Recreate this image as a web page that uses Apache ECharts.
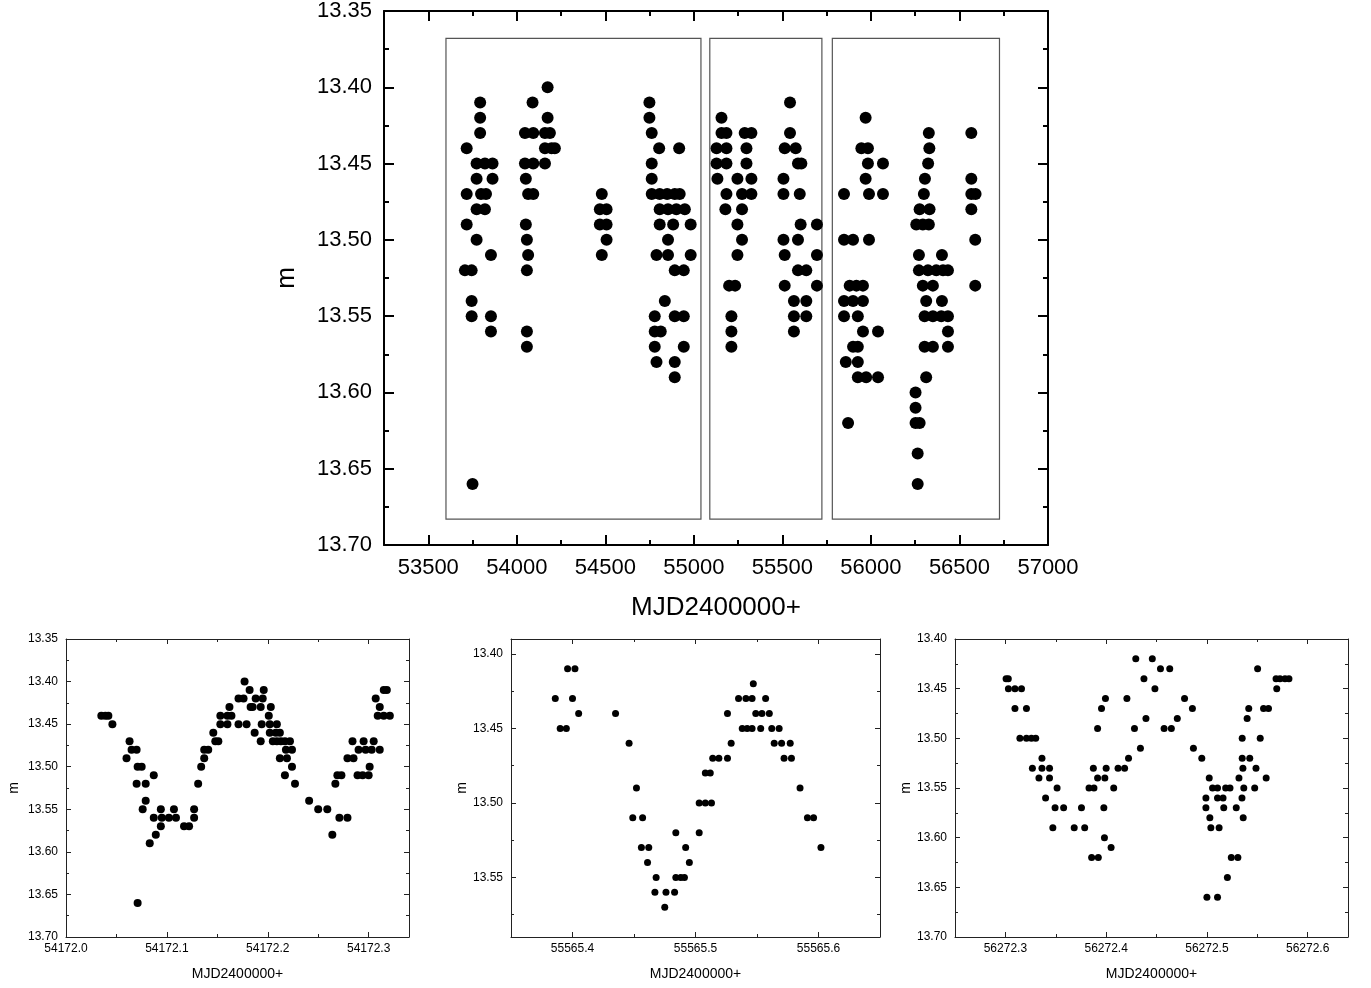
<!DOCTYPE html>
<html>
<head>
<meta charset="utf-8">
<script src="https://cdn.jsdelivr.net/npm/echarts@6/dist/echarts.min.js"></script>
<style>
  html, body { margin: 0; padding: 0; background: #fff; }
  #main { width: 1371px; height: 988px; }
</style>
</head>
<body>
<div id="main"></div>
<script>
// long-term light curve, [MJD, m]
const longTerm = [
  [53793,13.41],[53793,13.42],[53793,13.43],[53717,13.44],[53773,13.45],[53820,13.45],[53863,13.45],
  [53773,13.46],[53863,13.46],[53717,13.47],[53798,13.47],[53826,13.47],[53773,13.48],[53820,13.48],
  [53717,13.49],[53773,13.50],[53854,13.51],[53707,13.52],[53745,13.52],[53745,13.54],[53745,13.55],
  [53854,13.55],[53854,13.56],[53750,13.66],
  [54174,13.40],[54089,13.41],[54174,13.42],[54046,13.43],[54093,13.43],[54159,13.43],[54187,13.43],
  [54159,13.44],[54196,13.44],[54215,13.44],[54046,13.45],[54093,13.45],[54159,13.45],[54051,13.46],
  [54064,13.47],[54093,13.47],[54051,13.49],[54057,13.50],[54064,13.51],[54057,13.52],[54057,13.56],[54057,13.57],
  [54480,13.47],[54469,13.48],[54507,13.48],[54469,13.49],[54507,13.49],[54507,13.50],[54480,13.51],
  [54749,13.41],[54749,13.42],[54762,13.43],[54804,13.44],[54917,13.44],[54762,13.45],[54762,13.46],
  [54762,13.47],[54807,13.47],[54849,13.47],[54892,13.47],[54920,13.47],[54807,13.48],[54854,13.48],
  [54901,13.48],[54949,13.48],[54807,13.49],[54883,13.49],[54982,13.49],[54854,13.50],[54789,13.51],
  [54854,13.51],[54982,13.51],[54892,13.52],[54943,13.52],[54836,13.54],[54779,13.55],[54892,13.55],
  [54943,13.55],[54779,13.56],[54813,13.56],[54779,13.57],[54943,13.57],[54789,13.58],[54892,13.58],[54892,13.59],
  [55156,13.42],[55156,13.43],[55184,13.43],[55287,13.43],[55325,13.43],[55128,13.44],[55184,13.44],
  [55297,13.44],[55128,13.45],[55184,13.45],[55297,13.45],[55133,13.46],[55246,13.46],[55325,13.46],
  [55184,13.47],[55272,13.47],[55325,13.47],[55178,13.48],[55272,13.48],[55246,13.49],[55272,13.50],
  [55246,13.51],[55199,13.53],[55233,13.53],[55212,13.55],[55212,13.56],[55212,13.57],
  [55543,13.41],[55543,13.43],[55513,13.44],[55575,13.44],[55588,13.45],[55607,13.45],[55506,13.46],
  [55506,13.47],[55598,13.47],[55603,13.49],[55695,13.49],[55506,13.50],[55588,13.50],[55513,13.51],
  [55695,13.51],[55588,13.52],[55635,13.52],[55513,13.53],[55695,13.53],[55565,13.54],[55635,13.54],
  [55565,13.55],[55635,13.55],[55565,13.56],
  [55970,13.42],[55946,13.44],[55983,13.44],[55983,13.45],[56068,13.45],[55970,13.46],[55848,13.47],
  [55989,13.47],[56068,13.47],[55848,13.50],[55899,13.50],[55989,13.50],[55880,13.53],[55918,13.53],
  [55955,13.53],[55848,13.54],[55899,13.54],[55955,13.54],[55848,13.55],[55926,13.55],[55955,13.56],
  [56040,13.56],[55899,13.57],[55926,13.57],[55858,13.58],[55926,13.58],[55926,13.59],[55973,13.59],
  [56040,13.59],[55871,13.62],
  [56327,13.43],[56330,13.44],[56323,13.45],[56305,13.46],[56299,13.47],[56275,13.48],[56331,13.48],
  [56256,13.49],[56293,13.49],[56327,13.49],[56271,13.51],[56401,13.51],[56271,13.52],[56322,13.52],
  [56369,13.52],[56407,13.52],[56435,13.52],[56293,13.53],[56350,13.53],[56312,13.54],[56401,13.54],
  [56303,13.55],[56350,13.55],[56397,13.55],[56435,13.55],[56435,13.56],[56303,13.57],[56350,13.57],
  [56435,13.57],[56312,13.59],[56252,13.60],[56252,13.61],[56252,13.62],[56275,13.62],[56264,13.64],[56264,13.66],
  [56567,13.43],[56567,13.46],[56567,13.47],[56591,13.47],[56567,13.48],[56589,13.50],[56589,13.53]
];
// the three observing-season boxes: [x0, x1], y from/to
const boxX = [[53600, 55040], [55090, 55723], [55782, 56726]];
const boxY = [13.368, 13.683];

// night of 54172
const night1 = [
  [54172.035,13.44],[54172.039,13.44],[54172.042,13.44],[54172.046,13.45],[54172.063,13.47],[54172.065,13.48],
  [54172.070,13.48],[54172.060,13.49],[54172.071,13.50],[54172.075,13.50],[54172.087,13.51],[54172.070,13.52],
  [54172.079,13.52],[54172.079,13.54],[54172.076,13.55],[54172.094,13.55],[54172.107,13.55],[54172.127,13.55],
  [54172.087,13.56],[54172.095,13.56],[54172.102,13.56],[54172.109,13.56],[54172.127,13.56],[54172.117,13.57],
  [54172.122,13.57],[54172.094,13.57],[54172.089,13.58],[54172.083,13.59],[54172.071,13.66],[54172.131,13.52],
  [54172.134,13.50],[54172.137,13.49],[54172.137,13.48],[54172.141,13.48],[54172.146,13.46],[54172.148,13.47],
  [54172.151,13.47],[54172.153,13.44],[54172.160,13.44],[54172.164,13.44],[54172.153,13.45],[54172.160,13.45],
  [54172.162,13.43],[54172.171,13.42],[54172.176,13.42],[54172.171,13.45],[54172.179,13.45],[54172.177,13.40],
  [54172.182,13.41],[54172.183,13.43],[54172.185,13.43],[54172.188,13.42],[54172.195,13.42],[54172.196,13.41],
  [54172.193,13.43],[54172.203,13.43],[54172.187,13.46],[54172.194,13.45],[54172.202,13.45],[54172.209,13.45],
  [54172.201,13.44],[54172.193,13.47],[54172.202,13.46],[54172.208,13.46],[54172.212,13.46],[54172.205,13.47],
  [54172.209,13.47],[54172.213,13.47],[54172.217,13.47],[54172.222,13.47],[54172.212,13.49],[54172.219,13.49],
  [54172.218,13.48],[54172.224,13.48],[54172.224,13.50],[54172.217,13.51],[54172.227,13.52],[54172.241,13.54],
  [54172.250,13.55],[54172.259,13.55],[54172.271,13.56],[54172.279,13.56],[54172.264,13.58],[54172.267,13.52],
  [54172.269,13.51],[54172.273,13.51],[54172.279,13.49],[54172.285,13.49],[54172.284,13.47],[54172.295,13.47],
  [54172.305,13.47],[54172.290,13.48],[54172.297,13.48],[54172.303,13.48],[54172.311,13.48],[54172.289,13.51],
  [54172.294,13.51],[54172.300,13.51],[54172.301,13.50],[54172.307,13.42],[54172.311,13.43],[54172.315,13.41],
  [54172.318,13.41],[54172.309,13.44],[54172.315,13.44],[54172.321,13.44]
];

// night of 55565
const night2 = [
  [55565.396,13.41],[55565.402,13.41],[55565.386,13.43],[55565.400,13.43],[55565.405,13.44],[55565.390,13.45],
  [55565.395,13.45],[55565.435,13.44],[55565.446,13.46],[55565.452,13.49],[55565.449,13.51],[55565.457,13.51],
  [55565.456,13.53],[55565.462,13.53],[55565.461,13.54],[55565.468,13.55],[55565.467,13.56],[55565.476,13.56],
  [55565.483,13.56],[55565.475,13.57],[55565.484,13.55],[55565.488,13.55],[55565.491,13.55],[55565.484,13.52],
  [55565.492,13.53],[55565.495,13.54],[55565.503,13.52],[55565.503,13.50],[55565.508,13.50],[55565.513,13.50],
  [55565.508,13.48],[55565.512,13.48],[55565.514,13.47],[55565.519,13.47],[55565.526,13.47],[55565.529,13.46],
  [55565.526,13.44],[55565.538,13.45],[55565.542,13.45],[55565.546,13.45],[55565.535,13.43],[55565.541,13.43],
  [55565.546,13.43],[55565.547,13.42],[55565.557,13.43],[55565.549,13.44],[55565.554,13.44],[55565.560,13.44],
  [55565.553,13.45],[55565.562,13.45],[55565.568,13.45],[55565.564,13.46],[55565.570,13.46],[55565.577,13.46],
  [55565.572,13.47],[55565.578,13.47],[55565.585,13.49],[55565.591,13.51],[55565.596,13.51],[55565.602,13.53]
];

// night of 56272
const night3 = [
  [56272.3007,13.44],[56272.3029,13.44],[56272.303,13.45],[56272.3095,13.45],[56272.316,13.45],[56272.3095,13.47],
  [56272.3209,13.47],[56272.3144,13.50],[56272.3209,13.50],[56272.3258,13.50],[56272.3301,13.50],[56272.3363,13.52],
  [56272.3268,13.53],[56272.3363,13.53],[56272.3438,13.53],[56272.3333,13.54],[56272.3438,13.54],[56272.3513,13.55],
  [56272.3399,13.56],[56272.3493,13.57],[56272.3578,13.57],[56272.3471,13.59],[56272.3755,13.57],[56272.3683,13.59],
  [56272.3787,13.59],[56272.3856,13.62],[56272.3922,13.62],[56272.3983,13.60],[56272.4049,13.61],[56272.3977,13.57],
  [56272.383,13.55],[56272.3879,13.55],[56272.3915,13.54],[56272.3987,13.54],[56272.3873,13.53],[56272.40,13.53],
  [56272.4075,13.55],[56272.4118,13.53],[56272.4183,13.53],[56272.4222,13.52],[56272.434,13.51],[56272.3915,13.49],
  [56272.3954,13.47],[56272.3993,13.46],[56272.4206,13.46],[56272.4281,13.49],[56272.4395,13.48],[56272.4294,13.42],
  [56272.4375,13.44],[56272.4458,13.42],[56272.4484,13.45],[56272.4539,13.43],[56272.4631,13.43],[56272.4575,13.49],
  [56272.4647,13.49],[56272.4706,13.48],[56272.4778,13.46],[56272.4856,13.47],[56272.4866,13.51],[56272.4949,13.52],
  [56272.5023,13.54],[56272.499,13.56],[56272.499,13.57],[56272.5056,13.55],[56272.5105,13.55],[56272.5105,13.56],
  [56272.516,13.56],[56272.5186,13.55],[56272.5229,13.55],[56272.5167,13.57],[56272.5291,13.57],[56272.5029,13.58],
  [56272.5039,13.59],[56272.5121,13.59],[56272.5318,13.54],[56272.5348,13.56],[56272.5357,13.53],[56272.535,13.52],
  [56272.5425,13.52],[56272.535,13.50],[56272.5366,13.55],[56272.536,13.58],[56272.5242,13.62],[56272.5307,13.62],
  [56272.5203,13.64],[56272.50,13.66],[56272.5105,13.66],[56272.5399,13.48],[56272.5415,13.47],[56272.5487,13.53],
  [56272.5474,13.55],[56272.5529,13.50],[56272.5588,13.54],[56272.5562,13.47],[56272.5611,13.47],[56272.5503,13.43],
  [56272.5693,13.45],[56272.5686,13.44],[56272.5725,13.44],[56272.5775,13.44],[56272.5814,13.44]
];

// tick values
const topXMajor = [53500, 54000, 54500, 55000, 55500, 56000, 56500, 57000];
const topXMinor = [53750, 54250, 54750, 55250, 55750, 56250, 56750];
const magMajor = [13.35, 13.40, 13.45, 13.50, 13.55, 13.60, 13.65, 13.70];
const magMinor = [13.375, 13.425, 13.475, 13.525, 13.575, 13.625, 13.675];
const p1XMajor = [54172.0, 54172.1, 54172.2, 54172.3];
const p1XMinor = [54172.05, 54172.15, 54172.25];
const p2XMajor = [55565.4, 55565.5, 55565.6];
const p2XMinor = [55565.45, 55565.55];
const p2YMajor = [13.40, 13.45, 13.50, 13.55];
const p2YMinor = [13.425, 13.475, 13.525, 13.575];
const p3XMajor = [56272.3, 56272.4, 56272.5, 56272.6];
const p3XMinor = [56272.35, 56272.45, 56272.55];
const p3YMajor = [13.40, 13.45, 13.50, 13.55, 13.60, 13.65, 13.70];
const p3YMinor = [13.425, 13.475, 13.525, 13.575, 13.625, 13.675];

const FONT = '"Liberation Sans", Arial, sans-serif';

// four axes per dimension: main side major/minor, opposite side major/minor
function axisSet(dim, grid, min, max, major, minor, o) {
  const sides = dim === 'x' ? ['bottom', 'top'] : ['left', 'right'];
  const list = [];
  sides.forEach(function (side, k) {
    [major, minor].forEach(function (vals, j) {
      const main = k === 0 && j === 0;
      list.push({
        type: 'value', gridIndex: grid, position: side, min: min, max: max,
        inverse: !!o.inverse,
        splitLine: { show: false },
        axisLine: { show: j === 0, onZero: false, lineStyle: { color: o.lineColor, width: o.lineW } },
        axisTick: { show: true, inside: true, customValues: vals,
          length: j === 0 ? o.majorLen : o.minorLen,
          lineStyle: { color: o.lineColor, width: o.tickW } },
        axisLabel: { show: main, customValues: major, formatter: o.fmt, color: '#000',
          fontSize: o.fontSize, fontFamily: FONT, margin: o.margin },
        name: main ? o.name : '',
        nameLocation: 'middle', nameGap: o.nameGap,
        nameTextStyle: { fontSize: o.nameSize, fontFamily: FONT, color: '#000' }
      });
    });
  });
  return list;
}

const xAxes = [], yAxes = [];
function addGrid(gi, xs, ys) {
  const xi = xAxes.length, yi = yAxes.length;
  xs.forEach(a => xAxes.push(a));
  ys.forEach(a => yAxes.push(a));
  return { xAxisIndex: xi, yAxisIndex: yi };
}

const bigStyle = { lineColor: '#000', lineW: 2, tickW: 2, majorLen: 10, minorLen: 5, fontSize: 22, nameSize: 26 };
const smallStyle = { lineColor: '#222', lineW: 1, tickW: 1, majorLen: 5, minorLen: 3, fontSize: 12, nameSize: 14 };

const fmt1 = v => v.toFixed(1);
const fmt2 = v => v.toFixed(2);

const g0 = addGrid(0,
  axisSet('x', 0, 53250, 57000, topXMajor, topXMinor, Object.assign({}, bigStyle,
    { fmt: v => String(v), margin: 12, name: 'MJD2400000+', nameGap: 50 })),
  axisSet('y', 0, 13.35, 13.70, magMajor, magMinor, Object.assign({}, bigStyle,
    { fmt: fmt2, margin: 12, inverse: true, name: 'm', nameGap: 84 })));

const g1 = addGrid(1,
  axisSet('x', 1, 54172.0, 54172.34, p1XMajor, p1XMinor, Object.assign({}, smallStyle,
    { fmt: fmt1, margin: 6, name: 'MJD2400000+', nameGap: 30 })),
  axisSet('y', 1, 13.35, 13.70, magMajor, magMinor, Object.assign({}, smallStyle,
    { fmt: fmt2, margin: 8, inverse: true, name: 'm', nameGap: 45 })));

const g2 = addGrid(2,
  axisSet('x', 2, 55565.35, 55565.65, p2XMajor, p2XMinor, Object.assign({}, smallStyle,
    { fmt: fmt1, margin: 6, name: 'MJD2400000+', nameGap: 30 })),
  axisSet('y', 2, 13.39, 13.59, p2YMajor, p2YMinor, Object.assign({}, smallStyle,
    { fmt: fmt2, margin: 8, inverse: true, name: 'm', nameGap: 42 })));

const g3 = addGrid(3,
  axisSet('x', 3, 56272.25, 56272.64, p3XMajor, p3XMinor, Object.assign({}, smallStyle,
    { fmt: fmt1, margin: 6, name: 'MJD2400000+', nameGap: 30 })),
  axisSet('y', 3, 13.40, 13.70, p3YMajor, p3YMinor, Object.assign({}, smallStyle,
    { fmt: fmt2, margin: 8, inverse: true, name: 'm', nameGap: 42 })));

const boxes = boxX.map(b => [{ coord: [b[0], boxY[0]] }, { coord: [b[1], boxY[1]] }]);

function scatter(ax, data, size, extra) {
  return Object.assign({
    type: 'scatter', xAxisIndex: ax.xAxisIndex, yAxisIndex: ax.yAxisIndex,
    data: data, symbol: 'circle', symbolSize: size, silent: true,
    itemStyle: { color: '#000', opacity: 1 }
  }, extra || {});
}

const chart = echarts.init(document.getElementById('main'), null, { renderer: 'canvas' });
chart.setOption({
  animation: false,
  backgroundColor: '#fff',
  grid: [
    { left: 384, top: 11, width: 664, height: 534 },
    { left: 66, top: 639, width: 343, height: 298 },
    { left: 511, top: 639, width: 369, height: 298 },
    { left: 955, top: 639, width: 393, height: 298 }
  ],
  xAxis: xAxes,
  yAxis: yAxes,
  series: [
    scatter(g0, longTerm, 12, {
      markArea: {
        silent: true,
        itemStyle: { color: 'rgba(0,0,0,0)', borderColor: '#555', borderWidth: 1.2 },
        data: boxes
      }
    }),
    scatter(g1, night1, 8),
    scatter(g2, night2, 7),
    scatter(g3, night3, 7)
  ]
});
</script>
</body>
</html>
